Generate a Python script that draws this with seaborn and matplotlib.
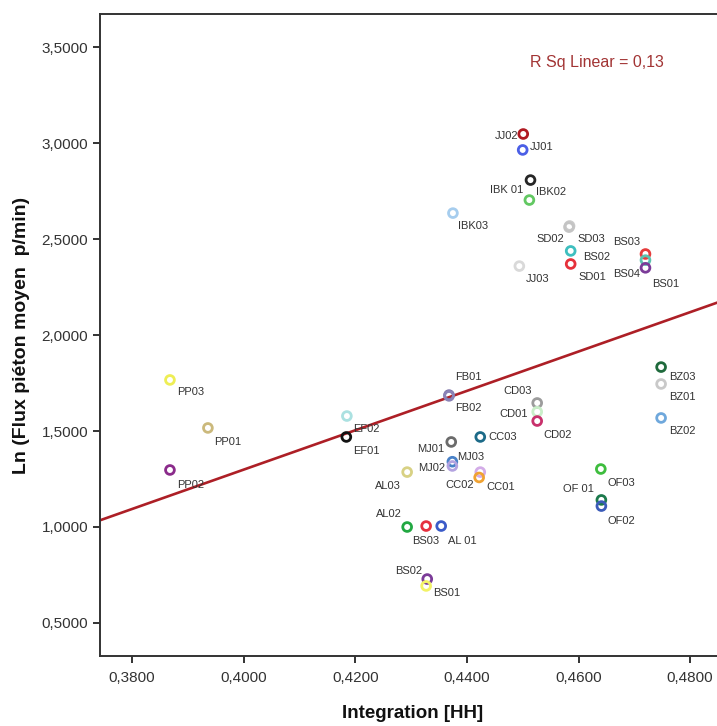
import matplotlib

matplotlib.use("Agg")
import matplotlib.pyplot as plt
import matplotlib.ticker as mticker
import pandas as pd
import seaborn as sns

# --- data ------------------------------------------------------------------
labels = [
    "JJ02", "JJ01", "IBK 01", "IBK02", "IBK03", "SD03", "SD02", "BS02", "SD01",
    "JJ03", "BS03", "BS04", "BS01", "BZ03", "BZ01", "BZ02", "CD03", "CD01",
    "CD02", "FB01", "FB02", "EF02", "EF01", "PP03", "PP01", "PP02", "MJ01",
    "MJ03", "MJ02", "AL03", "CC03", "CC02", "CC01", "OF03", "OF 01", "OF02",
    "AL02", "BS03", "AL 01", "BS02", "BS01",
]
integration = [
    0.4501, 0.4500, 0.4514, 0.4512, 0.4375, 0.4584, 0.4583, 0.4586, 0.4586,
    0.4494, 0.4720, 0.4720, 0.4720, 0.4748, 0.4748, 0.4748, 0.4526, 0.4526,
    0.4526, 0.4368, 0.4368, 0.4185, 0.4184, 0.3868, 0.3936, 0.3868, 0.4372,
    0.4374, 0.4374, 0.4293, 0.4424, 0.4424, 0.4422, 0.4640, 0.4641, 0.4641,
    0.4293, 0.4327, 0.4354, 0.4329, 0.4327,
]
ln_flux = [
    3.047, 2.964, 2.807, 2.703, 2.635, 2.568, 2.562, 2.438, 2.370,
    2.359, 2.422, 2.390, 2.350, 1.833, 1.745, 1.568, 1.646, 1.600,
    1.552, 1.687, 1.683, 1.578, 1.469, 1.766, 1.516, 1.297, 1.443,
    1.340, 1.318, 1.286, 1.469, 1.286, 1.258, 1.302, 1.141, 1.109,
    1.000, 1.005, 1.005, 0.729, 0.693,
]
r_sq = "0,13"

# --- styling ---------------------------------------------------------------
COLORS = [
    "#b01a22", "#4b5fe6", "#262626", "#62c862", "#a6cdee", "#cbcbcb", "#c4c4c4",
    "#3ebfbf", "#e6313b", "#d9d9d9", "#e63c3c", "#5cc2b0", "#7b3b98", "#1f6a3c",
    "#c9c9c9", "#6fa8dc", "#9c9c9c", "#c9efc9", "#c8316c", "#7c72a8", "#8a82b6",
    "#abe1e1", "#121212", "#eeee55", "#cbb97c", "#8b2b8b", "#6b6b6b", "#4a82c8",
    "#b3a3e0", "#d8d184", "#1c6a88", "#d3ace8", "#f0a232", "#3ebd3e", "#1c7a4c",
    "#3b5bb8", "#22a842", "#e6313f", "#3b5bc8", "#7b3b98", "#f2f266",
]
# label offset in pixels (dx, dy down) and alignment, per point
LABEL_POS = [
    (-5, 2, "right"), (7, -3, "left"), (-7, 10, "right"), (7, -8, "left"),
    (5, 13, "left"), (8, 13, "left"), (-5, 12, "right"), (12, 6, "left"),
    (8, 13, "left"), (6, 13, "left"), (-5, -12, "right"), (-5, 14, "right"),
    (7, 16, "left"), (8, 10, "left"), (8, 13, "left"), (8, 13, "left"),
    (-5, -12, "right"), (-9, 2, "right"), (6, 14, "left"), (6, -18, "left"),
    (6, 12, "left"), (6, 13, "left"), (7, 14, "left"), (7, 12, "left"),
    (6, 14, "left"), (7, 15, "left"), (-7, 7, "right"), (5, -5, "left"),
    (-7, 2, "right"), (-6, 14, "right"), (8, 0, "left"), (-6, 13, "right"),
    (7, 10, "left"), (7, 14, "left"), (-8, -11, "right"), (6, 15, "left"),
    (-5, -13, "right"), (0, 15, "center"), (7, 15, "left"), (-5, -8, "right"),
    (7, 7, "left"),
]
TEXT = "#333333"
LINE = "#ad1f26"

sns.set_style("white")
plt.rcParams["font.family"] = ["Liberation Sans", "DejaVu Sans"]

df = pd.DataFrame({"case": [str(i) for i in range(len(labels))],
                   "x": integration, "y": ln_flux, "label": labels})

fig = plt.figure(figsize=(7.17, 7.26), dpi=100)
ax = fig.add_axes([0.1395, 0.0964, 0.8705, 0.8843])
ax.set_xlim(0.37427, 0.48610)
ax.set_ylim(0.328, 3.672)

sns.regplot(data=df, x="x", y="y", scatter=False, ci=None, truncate=False,
            color=LINE, line_kws={"linewidth": 1.9}, ax=ax)

sns.scatterplot(data=df, x="x", y="y", hue="case", palette=COLORS,
                legend=False, s=40, linewidth=2.0, ax=ax, zorder=3)
pts = ax.collections[-1]
pts.set_edgecolors(pts.get_facecolors())
pts.set_facecolors("none")

for (xv, yv, name), (dx, dy, ha) in zip(zip(integration, ln_flux, labels), LABEL_POS):
    ax.annotate(name, (xv, yv), xytext=(dx, -dy), textcoords="offset pixels",
                ha=ha, va="center", fontsize=8, color=TEXT)

ax.text(0.689, 0.925, f"R Sq Linear = {r_sq}", transform=ax.transAxes,
        fontsize=11.5, color="#a23434", va="center")

ax.xaxis.set_major_locator(mticker.MultipleLocator(0.02))
ax.yaxis.set_major_locator(mticker.MultipleLocator(0.5))
ax.xaxis.set_major_formatter(mticker.FuncFormatter(lambda v, p: f"{v:.4f}".replace(".", ",")))
ax.yaxis.set_major_formatter(mticker.FuncFormatter(lambda v, p: f"{v:.4f}".replace(".", ",")))
ax.tick_params(axis="both", direction="out", length=5, width=1.4, colors="#333333",
               labelsize=11, labelcolor=TEXT, bottom=True, left=True)
ax.tick_params(axis="x", pad=6)

for side, spine in ax.spines.items():
    spine.set_color("#333333")
    spine.set_linewidth(1.4)
ax.spines["right"].set_visible(False)

ax.set_xlabel("Integration [HH]", fontsize=13.5, fontweight="bold", color="#111111", labelpad=14)
ax.set_ylabel("Ln (Flux piéton moyen  p/min)", fontsize=14, fontweight="bold", color="#111111", labelpad=8)

fig.savefig("out.png", dpi=100)
